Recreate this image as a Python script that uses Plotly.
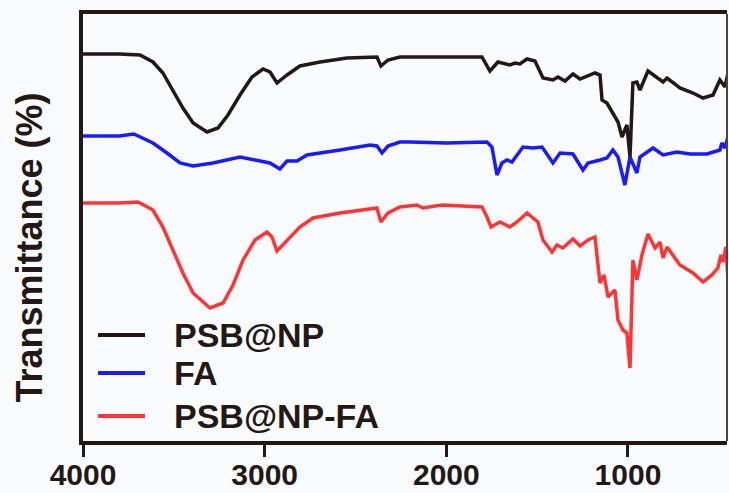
import plotly.graph_objects as go

# Wavenumbers (cm^-1) and transmittance (arbitrary units)
psb_wn = [4000, 3800, 3686, 3615, 3560, 3505, 3450, 3394, 3317, 3257, 3202, 3136, 3070, 3009, 2971,
          2932, 2877, 2806, 2695, 2547, 2382, 2360, 2321, 2255, 2200, 2000, 1804, 1760, 1716, 1650,
          1622, 1595, 1556, 1512, 1468, 1413, 1385, 1347, 1303, 1264, 1182, 1154, 1143, 1116, 1083,
          1055, 1033, 1006, 989, 973, 951, 934, 890, 840, 807, 785, 714, 642, 587, 532, 494, 466, 450]
psb_t = [387, 387, 386, 379, 368, 351, 333, 318, 309, 313, 326, 346, 364, 372, 369,
         358, 366, 375, 379, 383, 384, 375, 381, 384, 384, 384, 384, 370, 379, 376,
         378, 377, 382, 380, 363, 361, 364, 360, 367, 362, 368, 366, 341, 338, 328,
         319, 304, 316, 284, 358, 359, 351, 370, 364, 359, 363, 353, 348, 343, 346, 361, 354, 368]

fa_wn = [4000, 3800, 3720, 3686, 3615, 3538, 3466, 3394, 3284, 3136, 3042, 2971, 2916, 2877, 2822,
         2767, 2585, 2420, 2382, 2354, 2321, 2255, 2200, 2000, 1776, 1749, 1721, 1694, 1666, 1639,
         1578, 1523, 1473, 1413, 1374, 1303, 1248, 1220, 1154, 1116, 1083, 1055, 1017, 989, 951,
         934, 862, 807, 731, 659, 565, 494, 483, 466, 450]
fa_t = [305, 305, 307, 304, 298, 288, 278, 275, 278, 284, 281, 278, 272, 280, 280,
        286, 291, 296, 295, 288, 295, 299, 299, 298, 299, 294, 266, 278, 281, 279,
        294, 293, 294, 278, 288, 287, 271, 278, 281, 283, 291, 284, 256, 284, 268,
        284, 293, 286, 289, 287, 287, 291, 298, 293, 304]

psbfa_wn = [4000, 3800, 3700, 3686, 3615, 3560, 3505, 3450, 3394, 3301, 3229, 3174, 3119, 3053, 2987,
            2960, 2932, 2877, 2806, 2734, 2585, 2382, 2360, 2321, 2255, 2162, 2129, 2024, 1870, 1804,
            1776, 1754, 1705, 1650, 1611, 1556, 1496, 1468, 1418, 1391, 1358, 1303, 1264, 1220, 1182,
            1154, 1132, 1110, 1072, 1055, 1028, 1006, 989, 973, 951, 923, 890, 851, 824, 807,
            785, 714, 642, 587, 538, 505, 488, 477, 461, 450]
psbfa_t = [238, 238, 239, 238, 231, 214, 191, 168, 148, 133, 138, 156, 181, 201, 209,
           204, 190, 201, 214, 223, 228, 233, 219, 228, 234, 236, 233, 236, 235, 234,
           224, 214, 219, 214, 219, 228, 219, 201, 189, 196, 193, 202, 195, 201, 204,
           158, 166, 144, 151, 121, 111, 108, 73, 181, 161, 186, 207, 193, 199, 183,
           194, 176, 168, 159, 166, 173, 186, 179, 194, 164]

series_names = ["PSB@NP", "FA", "PSB@NP-FA"]
series_colors = ["#231815", "#1a1aff", "#ff3535"]
x_ticks = [4000, 3000, 2000, 1000]
y_title = "Transmittance (%)"

FONT = "Liberation Sans, Arial, sans-serif"
AXC = "#231815"
BG = "#f9fbfd"

fig = go.Figure()
for name, wn, t, c in zip(series_names, [psb_wn, fa_wn, psbfa_wn], [psb_t, fa_t, psbfa_t], series_colors):
    fig.add_trace(go.Scatter(x=wn, y=t, mode="lines", name=name,
                             line=dict(color=c, width=3.5), showlegend=False))

fig.update_layout(
    width=729, height=493,
    margin=dict(l=83, r=2, t=14, b=52),
    paper_bgcolor=BG, plot_bgcolor=BG,
    font=dict(family=FONT, color=AXC),
    showlegend=False,
    xaxis=dict(range=[4000, 455], tickvals=x_ticks, ticktext=[str(v) for v in x_ticks],
               showgrid=False, zeroline=False, showline=True, linewidth=4, linecolor=AXC,
               mirror=True, ticks="outside", ticklen=12, tickwidth=3, tickcolor=AXC,
               automargin=False, ticklabelstandoff=-8,
               tickfont=dict(family=FONT, size=30, weight="bold", color=AXC)),
    yaxis=dict(range=[0, 427], showticklabels=False, showgrid=False, zeroline=False,
               showline=True, linewidth=4, linecolor=AXC, ticks="", automargin=False),
)
fig.add_shape(type="line", xref="paper", yref="paper", x0=1, x1=1, y0=0, y1=1,
              line=dict(color="#4a4440", width=2))

# y-axis title
fig.add_annotation(text=y_title, xref="paper", yref="paper", x=-0.0823, y=0.453,
                   textangle=-90, showarrow=False, xanchor="center", yanchor="middle",
                   font=dict(family=FONT, size=36, weight="bold", color=AXC))

# legend (drawn as sample lines + labels, positioned like the reference)
leg_y = [0.2482, 0.1593, 0.0585]
for name, c, yy in zip(series_names, series_colors, leg_y):
    fig.add_shape(type="line", xref="paper", yref="paper", x0=0.0233, x1=0.0963, y0=yy, y1=yy,
                  line=dict(color=c, width=4))
    fig.add_annotation(text=name, xref="paper", yref="paper", x=0.1382, y=yy,
                       xanchor="left", yanchor="middle", showarrow=False,
                       font=dict(family=FONT, size=34, weight="bold", color=AXC))

fig.write_html("out.html", config={"displayModeBar": False},
               post_script="document.body.style.margin='0';document.body.style.background='#f9fbfd';")
